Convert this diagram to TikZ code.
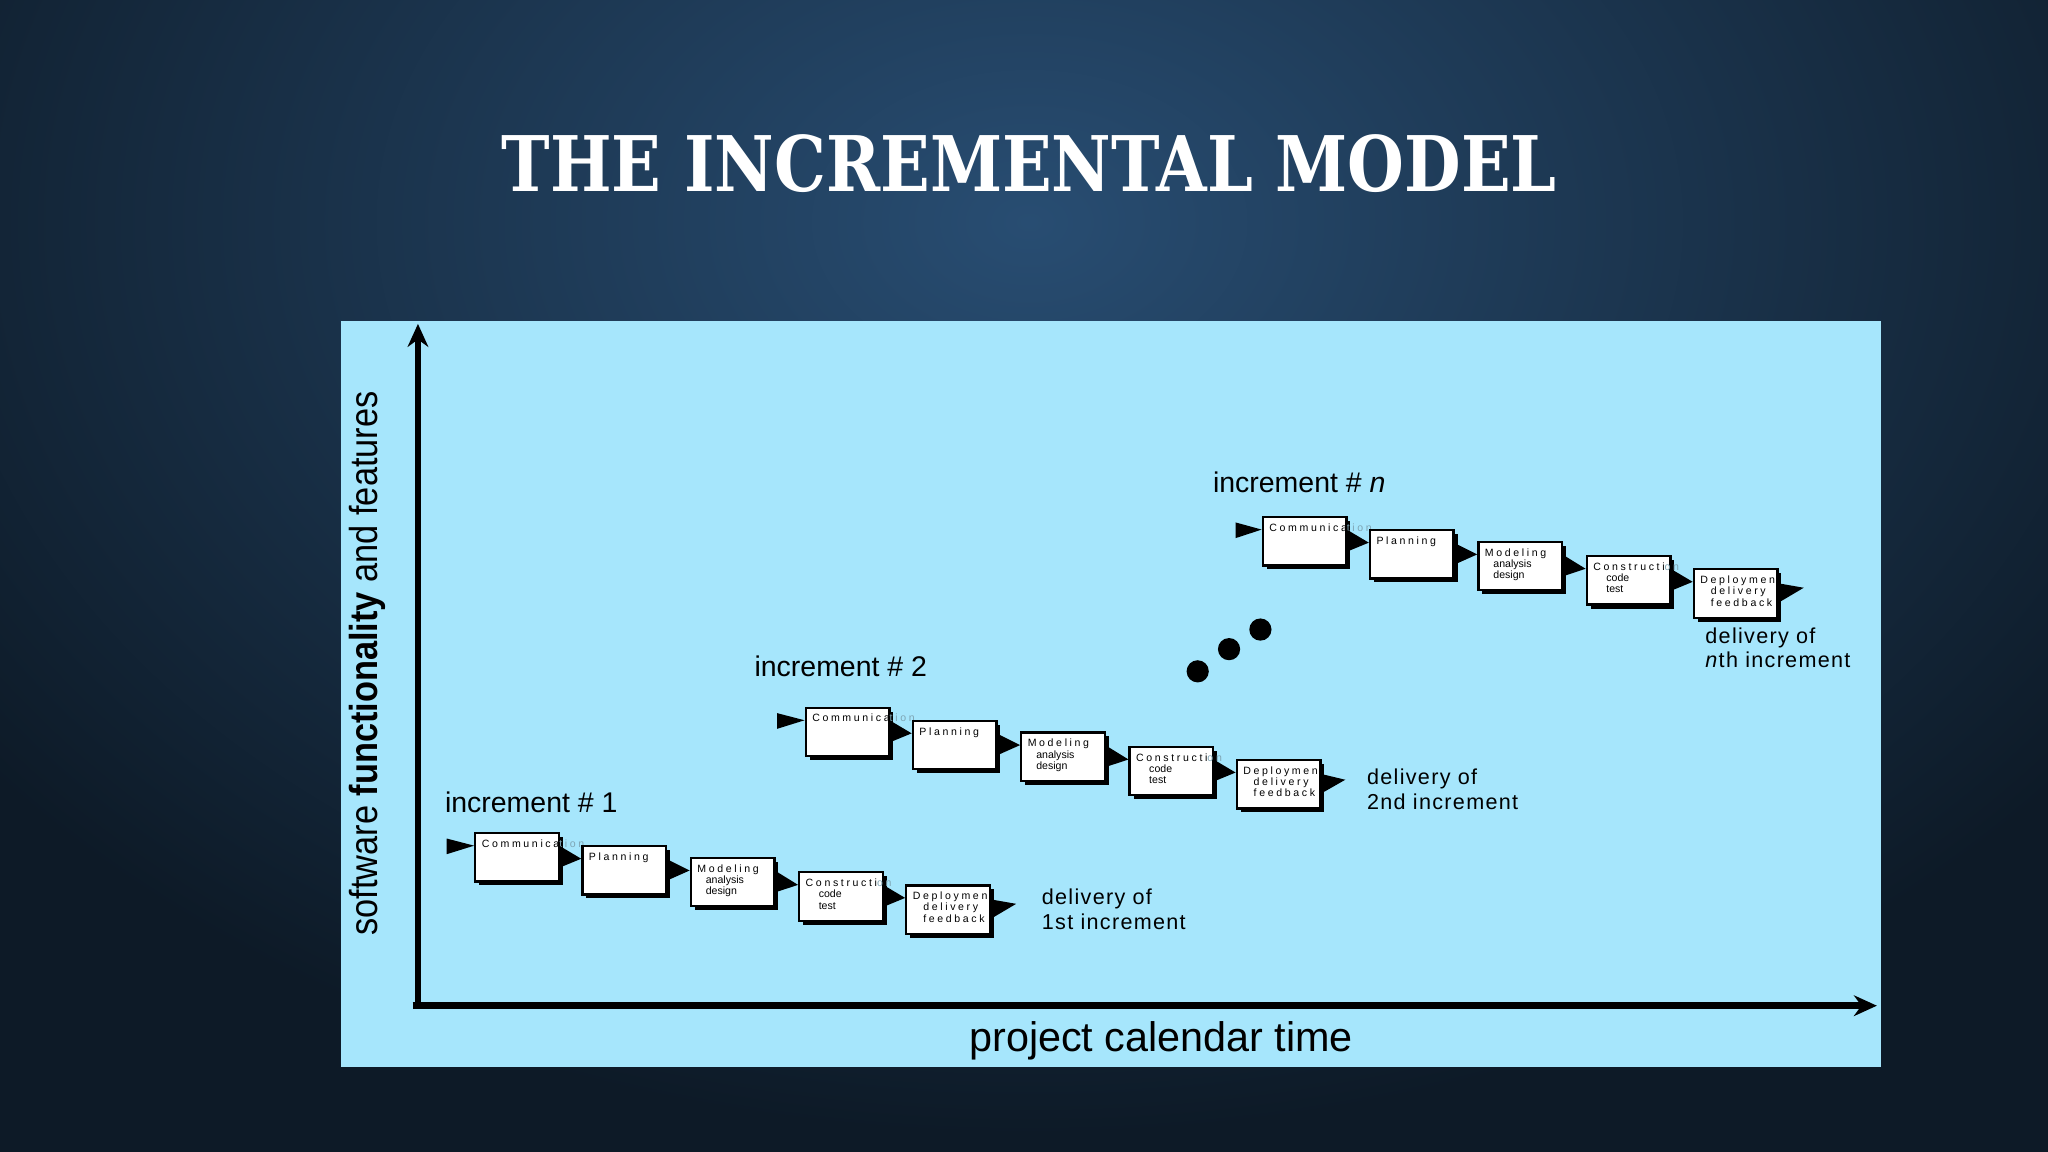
\documentclass[tikz,border=0pt]{standalone}
\usepackage{fontspec}
\setmainfont{Liberation Sans}
\newfontfamily\titlefont{DejaVu Serif}
\newfontfamily\spaced[LetterSpace=25]{Liberation Sans}
\newfontfamily\wide[LetterSpace=6]{Liberation Sans}
\usetikzlibrary{arrows.meta,calc,shadows}
\definecolor{slide}{HTML}{0D1A27}
\definecolor{glow}{HTML}{284D72}
\definecolor{panel}{HTML}{A6E6FC}
\definecolor{faint}{HTML}{7FA6B5}
\newcommand\ph[1]{\parbox[t][0.27cm][t]{0.54cm}{\raggedright\hyphenpenalty=10000\fontsize{2.3}{2.45}\selectfont #1}}
\newcommand\phcom{\ph{\spaced Communica\textcolor{faint}{tion}}}
\newcommand\phplan{\ph{\spaced Planning}}
\newcommand\phmod{\ph{\spaced Modeling\\\hspace*{0.065cm}\rmfamily analysis\\\hspace*{0.065cm}design}}
\newcommand\phcon{\ph{\spaced Constructi\textcolor{faint}{on}\\\hspace*{0.1cm}\rmfamily code\\\hspace*{0.1cm}test}}
\newcommand\phdep{\ph{\spaced Deploymen\\\hspace*{0.08cm}delivery\\\hspace*{0.08cm}feedback}}
\tikzset{
  phase/.style={draw, fill=white, line width=0.5pt, anchor=north west, inner xsep=0.05cm, inner ysep=0.05cm,
    drop shadow={shadow xshift=0.03cm, shadow yshift=-0.03cm, fill=black, opacity=1}},
  flow/.style={to path={($(\tikztostart.north east)!0.28!(\tikztostart.south east)$)
    -- ($(\tikztotarget.north west)!0.27!(\tikztotarget.south west)$)
    -- ($(\tikztostart.north east)!0.7!(\tikztostart.south east)$) -- cycle}},
  feed/.style={to path={($(\tikztostart)+(0,-6)$)
    -- ($(\tikztotarget.north west)!0.27!(\tikztotarget.south west)$)
    -- ($(\tikztostart)+(0,6)$) -- cycle}},
  outflow/.style={to path={($(\tikztostart.north east)!0.3!(\tikztostart.south east)$)
    -- (\tikztotarget) -- ($(\tikztostart.north east)!0.68!(\tikztostart.south east)$) -- cycle}},
  inclabel/.style={anchor=west, inner sep=0pt, font=\fontsize{6.2}{7}\selectfont},
  delivery/.style={anchor=west, inner sep=0pt, align=left, font=\wide\fontsize{4.7}{5.4}\selectfont},
  axis/.style={line width=1.5pt, -{Stealth[length=5pt,width=4.5pt]}},
}
\begin{document}
\begin{tikzpicture}[x=0.01cm, y=-0.01cm]
  \useasboundingbox (0,0) rectangle (1568,882);
  \fill[slide] (0,0) rectangle (1568,882);
  \begin{scope}
    \clip (0,0) rectangle (1568,882);
    \shade[inner color=glow, outer color=slide] (788,170) ellipse (1000 and 700);
  \end{scope}
  \node[text=white] (title) at (788,125)
    {\scalebox{0.85}[1]{\titlefont\bfseries\fontsize{16.7}{18}\selectfont THE INCREMENTAL MODEL}};
  \fill[panel] (261,246) rectangle (1440,817);

  % axes
  \coordinate (origin) at (320,770);
  \coordinate (ytop) at (320,248);
  \coordinate (xstart) at (316,770);
  \coordinate (xend) at (1437,770);
  \draw[axis] (origin) -- (ytop);
  \draw[axis] (xstart) -- (xend);
  \node[rotate=90] (ylab) at (281,508)
    {\fontsize{8.5}{10}\selectfont\scalebox{0.88}[1]{software \textbf{functionality} and features}};
  \node (xlab) at (889,797) {\fontsize{9}{10}\selectfont project calendar time};

  % increments
  \draw
    (363,637) node[phase] (com1){\phcom}
    (445,647) node[phase] (plan1){\phplan}
    (528,656) node[phase] (mod1){\phmod}
    (611,667) node[phase] (con1){\phcon}
    (693,677) node[phase] (dep1){\phdep}
    (616,541) node[phase] (com2){\phcom}
    (698,551) node[phase] (plan2){\phplan}
    (781,560) node[phase] (mod2){\phmod}
    (864,571) node[phase] (con2){\phcon}
    (946,581) node[phase] (dep2){\phdep}
    (966,395) node[phase] (comn){\phcom}
    (1048,405) node[phase] (plann){\phplan}
    (1131,414) node[phase] (modn){\phmod}
    (1214,425) node[phase] (conn){\phcon}
    (1296,435) node[phase] (depn){\phdep};
  \coordinate (in1) at (342,648);
  \coordinate (in2) at (595,552);
  \coordinate (inn) at (946,406);
  \coordinate (out1) at (778,692);
  \coordinate (out2) at (1030,597);
  \coordinate (outn) at (1381,450);
  \begin{scope}[fill=black]
    \fill[feed] (in1) to (com1);
    \fill[flow] (com1) to (plan1);
    \fill[flow] (plan1) to (mod1);
    \fill[flow] (mod1) to (con1);
    \fill[flow] (con1) to (dep1);
    \fill[outflow] (dep1) to (out1);
    \fill[feed] (in2) to (com2);
    \fill[flow] (com2) to (plan2);
    \fill[flow] (plan2) to (mod2);
    \fill[flow] (mod2) to (con2);
    \fill[flow] (con2) to (dep2);
    \fill[outflow] (dep2) to (out2);
    \fill[feed] (inn) to (comn);
    \fill[flow] (comn) to (plann);
    \fill[flow] (plann) to (modn);
    \fill[flow] (modn) to (conn);
    \fill[flow] (conn) to (depn);
    \fill[outflow] (depn) to (outn);
  \end{scope}
  \fill (917,514) circle (8.5) (941,497) circle (8.5) (965,482) circle (8.5);

  \node[inclabel] (inc1) at (340,614) {increment \# 1};
  \node[inclabel] (inc2) at (577,510) {increment \# 2};
  \node[inclabel] (incn) at (928,369) {increment \# \textit{n}};
  \node[delivery] (del1) at (797,696) {delivery of\\1st increment};
  \node[delivery] (del2) at (1046,604) {delivery of\\2nd increment};
  \node[delivery] (deln) at (1305,496) {delivery of\\\textit{n}th increment};
\end{tikzpicture}
\end{document}
